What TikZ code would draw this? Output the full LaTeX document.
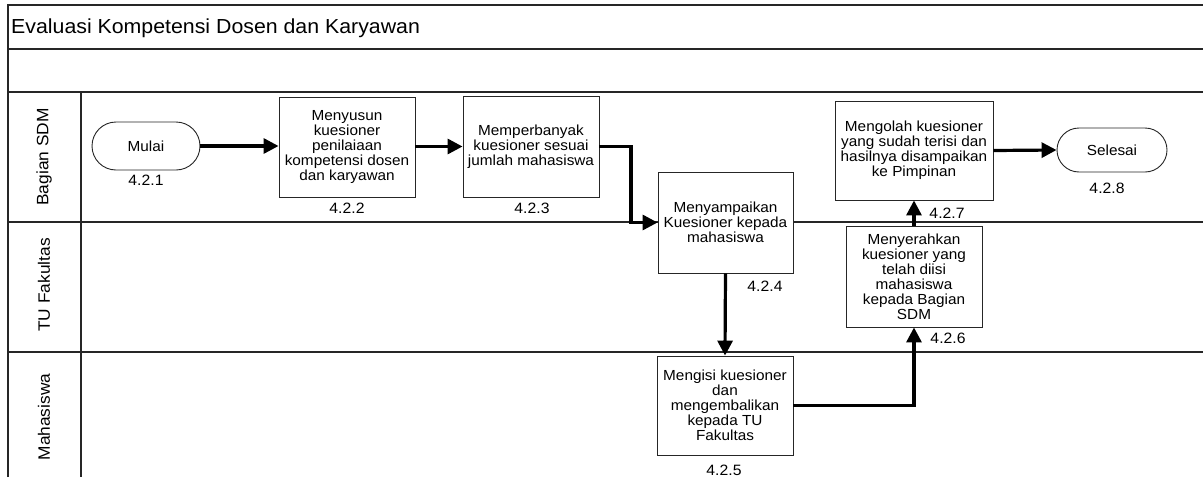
\documentclass[tikz,border=0pt]{standalone}
\usepackage{fontspec}
\setmainfont{Liberation Sans}[FakeStretch=1.05]
\usetikzlibrary{arrows.meta}
\begin{document}
\begin{tikzpicture}[x=1pt,y=-1pt,
  lane/.style={draw=black!85,line width=1.3pt},
  procbox/.style={draw=black!85,line width=0.9pt,fill=white,align=center,inner sep=0pt,
    font=\fontsize{14.6}{15}\selectfont},
  term/.style={draw=black!85,line width=0.9pt,fill=white,align=center,inner sep=0pt,
    font=\fontsize{14.6}{15}\selectfont},
  numlbl/.style={font=\fontsize{15}{15}\selectfont,inner sep=0pt},
  lanelbl/.style={rotate=90,font=\fontsize{16.5}{17}\selectfont,inner sep=0pt},
  flow/.style={line width=3.2pt,-{Triangle[length=15pt,width=15pt]}}]
\useasboundingbox (0,0) rectangle (1203,477);
% frame and lanes
\draw[lane] (8,477) -- (8,5) -- (1203,5);
\draw[lane] (8,49) -- (1203,49);
\draw[lane] (8,92) -- (1203,92);
\draw[lane] (8,222) -- (1203,222);
\draw[lane] (8,352) -- (1203,352);
\draw[lane] (81,92) -- (81,477);
\node[anchor=west,font=\fontsize{20.3}{22}\selectfont,inner sep=0pt] (title) at (11,28) {Evaluasi Kompetensi Dosen dan Karyawan};
\node[lanelbl] (lsdm) at (44,157) {Bagian SDM};
\node[lanelbl] (ltu) at (44,285) {TU Fakultas};
\node[lanelbl] (lmhs) at (44,417) {Mahasiswa};
% nodes
\node[term,minimum width=108pt,minimum height=48pt,rounded corners=24pt] (mulai) at (146,146) {Mulai};
\node[procbox,minimum width=136pt,minimum height=100pt] (b422) at (347,147) {Menyusun\\kuesioner\\penilaiaan\\kompetensi dosen\\dan karyawan};
\node[procbox,minimum width=136pt,minimum height=101pt] (b423) at (531,146.5) {Memperbanyak\\kuesioner sesuai\\jumlah mahasiswa};
\node[procbox,minimum width=135pt,minimum height=101pt] (b424) at (725.5,222.5) {Menyampaikan\\Kuesioner kepada\\mahasiswa};
\node[procbox,minimum width=136pt,minimum height=99pt] (b425) at (725,405.5) {Mengisi kuesioner\\dan\\mengembalikan\\kepada TU\\Fakultas};
\node[procbox,minimum width=136pt,minimum height=101pt] (b426) at (914,276.5) {Menyerahkan\\kuesioner yang\\telah diisi\\mahasiswa\\kepada Bagian\\SDM};
\node[procbox,minimum width=158pt,minimum height=99pt] (b427) at (914,150.5) {Mengolah kuesioner\\yang sudah terisi dan\\hasilnya disampaikan\\ke Pimpinan};
\node[term,minimum width=110pt,minimum height=44pt,rounded corners=22pt] (selesai) at (1112,150) {Selesai};
% number labels
\node[numlbl] (n1) at (146,180) {4.2.1};
\node[numlbl] (n2) at (347,208) {4.2.2};
\node[numlbl] (n3) at (532,208) {4.2.3};
\node[numlbl] (n4) at (765,286) {4.2.4};
\node[numlbl] (n5) at (724,470) {4.2.5};
\node[numlbl] (n6) at (948,338) {4.2.6};
\node[numlbl] (n7) at (947,213) {4.2.7};
\node[numlbl] (n8) at (1107,188) {4.2.8};
% connectors
\coordinate (bend1) at (631,146.5);
\draw[flow] (mulai.east) -- (mulai.east -| b422.west);
\draw[flow] (b422.east |- b423.west) -- (b423.west);
\draw[flow] (b423.east) -- (bend1) |- (b424.west);
\draw[flow] (b424.south) -- (b425.north);
\draw[flow] (b425.east) -| (b426.south);
\draw[flow] (b426.north) -- (b427.south);
\draw[flow] (b427.east) -- (selesai.west);
\end{tikzpicture}
\end{document}
